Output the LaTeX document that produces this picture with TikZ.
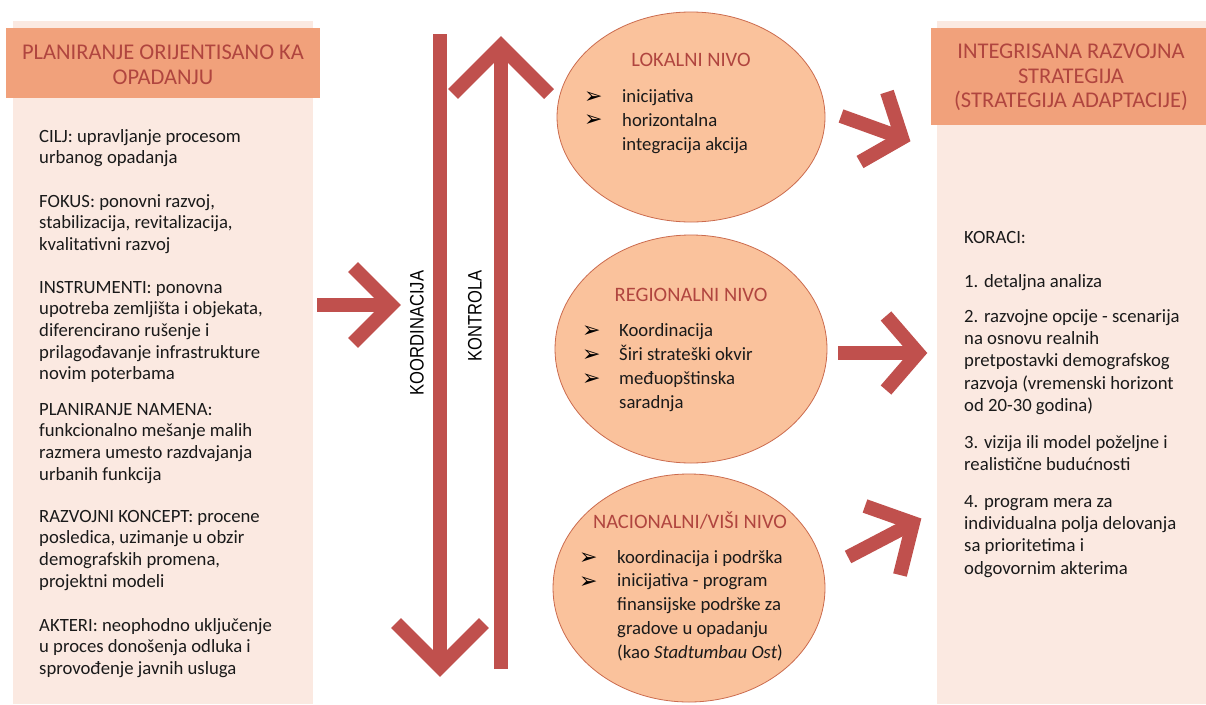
\documentclass[tikz,border=0pt]{standalone}
\usepackage{fontspec}
\setmainfont{Carlito}
\newfontfamily\narrowfont[FakeStretch=0.85]{Liberation Sans}
\newfontfamily\symfont{DejaVu Sans}
\usetikzlibrary{shapes.geometric}
\definecolor{arrred}{HTML}{C0504D}
\definecolor{panelbg}{HTML}{FBE9E1}
\definecolor{headfill}{HTML}{F1A17B}
\definecolor{headtext}{HTML}{B0453F}
\definecolor{ellfill}{HTML}{FAC29C}
\definecolor{elldraw}{HTML}{CB6B4E}
\definecolor{bodyink}{HTML}{1A1A1A}
\tikzset{
  bodytxt/.style={anchor=base west, inner sep=0, font=\fontsize{18.7}{22}\selectfont, text=bodyink},
  headtxt/.style={anchor=base, inner sep=0, font=\fontsize{22.5}{25}\selectfont, text=headtext},
  titletxt/.style={anchor=base, inner sep=0, font=\fontsize{20.5}{24}\selectfont, text=headtext},
  bulletmark/.style={anchor=base west, inner sep=0, font=\symfont\fontsize{22}{22}\selectfont, text=black},
  level/.style={ellipse, fill=ellfill, draw=elldraw, line width=0.8pt, inner sep=0},
  panel/.style={fill=panelbg, draw=none, anchor=north west, inner sep=0},
  headbox/.style={fill=headfill, draw=none, anchor=north west, inner sep=0},
  shaft/.style={draw=arrred, line width=14pt, line cap=butt},
  chev/.style={draw=arrred, line width=14pt, line join=miter, miter limit=10, line cap=butt},
  chevwhite/.style={draw=white, line width=17pt, line join=miter, miter limit=10, line cap=butt},
  vlabel/.style={rotate=90, inner sep=0, font=\narrowfont\fontsize{19.5}{20}\selectfont, text=black}
}
\newcommand\txtblock[5]{%
  \foreach \t [count=\i from 0] in {#5} {\node[bodytxt] (#1-\i) at (#2, #3+\i*#4) {\t};}}
\begin{document}
\begin{tikzpicture}[x=1pt,y=-1pt]
\useasboundingbox (0,0) rectangle (1206,704);
\fill[white] (0,0) rectangle (1206,704);

% ---------- left panel ----------
\node[panel, minimum width=300pt, minimum height=683pt] (leftpanel) at (13,21) {};
\node[headbox, minimum width=314pt, minimum height=70pt] (lefthead) at (6,28) {};
\node[headtxt] (lh1) at (163,59) {PLANIRANJE ORIJENTISANO KA};
\node[headtxt] (lh2) at (163,84) {OPADANJU};

\txtblock{cilj}{39}{142}{21.7}{{CILJ: upravljanje procesom},{urbanog opadanja}}
\txtblock{fokus}{39}{207}{21.7}{{FOKUS: ponovni razvoj,},{stabilizacija, revitalizacija,},{kvalitativni razvoj}}
\txtblock{instr}{39}{293}{21.7}{{INSTRUMENTI: ponovna},{upotreba zemljišta i objekata,},{diferencirano rušenje i},{prilagođavanje infrastrukture},{novim poterbama}}
\txtblock{plan}{39}{415}{21.7}{{PLANIRANJE NAMENA:},{funkcionalno mešanje malih},{razmera umesto razdvajanja},{urbanih funkcija}}
\txtblock{razv}{39}{522}{21.7}{{RAZVOJNI KONCEPT: procene},{posledica, uzimanje u obzir},{demografskih promena,},{projektni modeli}}
\txtblock{akt}{39}{631}{21.7}{{AKTERI: neophodno uključenje},{u proces donošenja odluka i},{sprovođenje javnih usluga}}

% ---------- right panel ----------
\node[panel, minimum width=269pt, minimum height=683pt] (rightpanel) at (937,21) {};
\node[headbox, minimum width=275pt, minimum height=97pt] (righthead) at (931,28) {};
\node[headtxt] (rh1) at (1071,58) {INTEGRISANA RAZVOJNA};
\node[headtxt] (rh2) at (1071,83) {STRATEGIJA};
\node[headtxt] (rh3) at (1071,107) {(STRATEGIJA ADAPTACIJE)};

\node[bodytxt] (koraci) at (964,243) {KORACI:};
\node[bodytxt] (step1) at (964,287) {1. detaljna analiza};
\txtblock{stepb}{964}{322}{22.4}{{2. razvojne opcije - scenarija},{na osnovu realnih},{pretpostavki demografskog},{razvoja (vremenski horizont},{od 20-30 godina)}}
\txtblock{stepc}{964}{448}{22.4}{{3. vizija ili model poželjne i},{realistične budućnosti}}
\txtblock{stepd}{964}{507}{22.4}{{4. program mera za},{individualna polja delovanja},{sa prioritetima i},{odgovornim akterima}}

% ---------- ellipses ----------
\node[level, minimum width=268pt, minimum height=210pt] (lok) at (691,117) {};
\node[level, minimum width=272pt, minimum height=228pt] (reg) at (691,349) {};
\node[level, minimum width=272pt, minimum height=228pt] (nac) at (689,588) {};

\node[titletxt] (lokt) at (691,66) {LOKALNI NIVO};
\node[bulletmark] (lokb1) at (584,103) {➢};
\node[bulletmark] (lokb2) at (584,126) {➢};
\txtblock{lokx}{622}{102}{24}{{inicijativa},{horizontalna},{integracija akcija}}

\node[titletxt] (regt) at (691,301) {REGIONALNI NIVO};
\node[bulletmark] (regb1) at (582,337) {➢};
\node[bulletmark] (regb2) at (582,361) {➢};
\node[bulletmark] (regb3) at (582,385) {➢};
\txtblock{regx}{619}{336}{24}{{Koordinacija},{Širi strateški okvir},{međuopštinska},{saradnja}}

\node[titletxt] (nact) at (690,528) {NACIONALNI/VIŠI NIVO};
\node[bulletmark] (nacb1) at (579,564) {➢};
\node[bulletmark] (nacb2) at (579,588) {➢};
\txtblock{nacx}{617}{563}{23.8}{{koordinacija i podrška},{inicijativa - program},{finansijske podrške za},{gradove u opadanju},{(kao \textit{Stadtumbau Ost})}}

% ---------- left arrow ----------
\coordinate (la0) at (317,305);
\coordinate (la1) at (391,305);
\coordinate (lau) at (353,267);
\coordinate (lad) at (353,343);
\draw[shaft] (la0) -- (la1);
\draw[chev] (lau) -- (la1) -- (lad);

% ---------- KOORDINACIJA (down) ----------
\coordinate (ko0) at (440,34);
\coordinate (ko1) at (440,667);
\coordinate (kol) at (396,623);
\coordinate (kor) at (484,623);
\draw[shaft] (ko0) -- (ko1);
\draw[chev] (kol) -- (ko1) -- (kor);
\node[vlabel] (kolab) at (417,333) {KOORDINACIJA};

% ---------- KONTROLA (up) ----------
\coordinate (kn0) at (501,669);
\coordinate (kn1) at (501,46);
\coordinate (knl) at (453,94);
\coordinate (knr) at (549,94);
\draw[chevwhite] (knl) -- (kn1) -- (knr);
\draw[shaft] (kn0) -- (kn1);
\draw[chev] (knl) -- (kn1) -- (knr);
\node[vlabel] (knlab) at (475,316) {KONTROLA};

% ---------- right arrows ----------
\coordinate (a10) at (841,116);
\coordinate (a11) at (902,138);
\coordinate (a1u) at (887,92);
\coordinate (a1d) at (860,162);
\draw[shaft] (a10) -- (a11);
\draw[chev] (a1u) -- (a11) -- (a1d);

\coordinate (a20) at (838,353);
\coordinate (a21) at (918,353);
\coordinate (a2u) at (886,316);
\coordinate (a2d) at (886,390);
\draw[shaft] (a20) -- (a21);
\draw[chev] (a2u) -- (a21) -- (a2d);

\coordinate (a30) at (848,557);
\coordinate (a31) at (913,523);
\coordinate (a3u) at (865,506);
\coordinate (a3d) at (900,575);
\draw[shaft] (a30) -- (a31);
\draw[chev] (a3u) -- (a31) -- (a3d);
\end{tikzpicture}
\end{document}
